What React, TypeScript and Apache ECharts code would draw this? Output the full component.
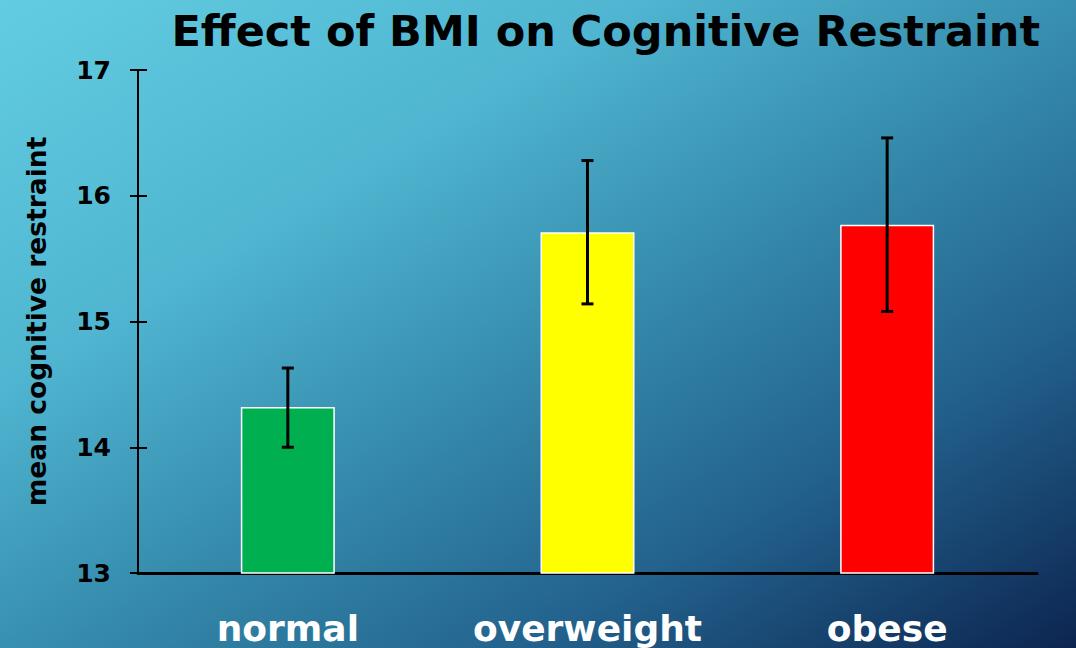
import React, { useEffect, useRef } from "react";
import * as echarts from "echarts";

const categories = ["normal", "overweight", "obese"];
const means = [14.32, 15.71, 15.77];
const errLow = [14.0, 15.14, 15.08];
const errHigh = [14.63, 16.28, 16.46];
const barColors = ["#00b050", "#ffff00", "#ff0000"];
const titleText = "Effect of BMI on Cognitive Restraint";
const yName = "mean cognitive restraint";

export default function App() {
  const ref = useRef<HTMLDivElement>(null);
  useEffect(() => {
    const chart = echarts.init(ref.current!, null, { renderer: "svg" });
    const font = "'DejaVu Sans', sans-serif";
    chart.setOption({
      animation: false,
      backgroundColor: {
        type: "linear",
        x: 0,
        y: 0,
        x2: 1,
        y2: 1,
        colorStops: [
          { offset: 0, color: "#62cde2" },
          { offset: 0.3, color: "#4fb5d0" },
          { offset: 0.5, color: "#3890b0" },
          { offset: 0.75, color: "#22618c" },
          { offset: 1, color: "#0c2550" },
        ],
      },
      title: {
        text: titleText,
        right: 31,
        top: 4,
        textStyle: { fontFamily: font, fontWeight: "bold", fontSize: 43, color: "#000" },
      },
      grid: { left: 138, right: 39, top: 70, bottom: 75 },
      xAxis: {
        type: "category",
        data: categories,
        axisLine: { lineStyle: { color: "#000", width: 3 } },
        axisTick: { show: false },
        axisLabel: {
          color: "#fff",
          fontFamily: font,
          fontWeight: "bold",
          fontSize: 36,
          margin: 37,
        },
      },
      yAxis: [
        {
          type: "value",
          min: 13,
          max: 17,
          interval: 1,
          name: yName,
          nameLocation: "middle",
          nameGap: 88,
          nameTextStyle: { fontFamily: font, fontWeight: "bold", fontSize: 26.5, color: "#000" },
          axisLine: { show: true, lineStyle: { color: "#000", width: 2 } },
          axisTick: { show: true, length: 8, lineStyle: { color: "#000", width: 2 } },
          splitLine: { show: false },
          axisLabel: { color: "#000", fontFamily: font, fontWeight: "bold", fontSize: 25, margin: 27 },
        },
        {
          type: "value",
          min: 13,
          max: 17,
          interval: 1,
          position: "left",
          axisLine: { show: false },
          axisTick: { show: true, inside: true, length: 9, lineStyle: { color: "#000", width: 2 } },
          splitLine: { show: false },
          axisLabel: { show: false },
        },
      ],
      series: [
        {
          type: "bar",
          barWidth: 94,
          data: means.map((v, i) => ({
            value: v,
            itemStyle: { color: barColors[i], borderColor: "#fff", borderWidth: 1.5 },
          })),
        },
        {
          type: "custom",
          data: categories.map((_, i) => [i, errLow[i], errHigh[i]]),
          z: 10,
          renderItem: (params: any, api: any) => {
            const x = api.value(0);
            const lo = api.coord([x, api.value(1)]);
            const hi = api.coord([x, api.value(2)]);
            const hw = 6;
            const style = { stroke: "#000", lineWidth: 3 };
            return {
              type: "group",
              children: [
                { type: "line", shape: { x1: lo[0], y1: lo[1], x2: hi[0], y2: hi[1] }, style },
                { type: "line", shape: { x1: lo[0] - hw, y1: lo[1], x2: lo[0] + hw, y2: lo[1] }, style },
                { type: "line", shape: { x1: hi[0] - hw, y1: hi[1], x2: hi[0] + hw, y2: hi[1] }, style },
              ],
            };
          },
        },
      ],
    });
    return () => chart.dispose();
  }, []);
  return (
    <div
      ref={ref}
      style={{ position: "fixed", left: 0, top: 0, width: 1076, height: 648 }}
    />
  );
}
